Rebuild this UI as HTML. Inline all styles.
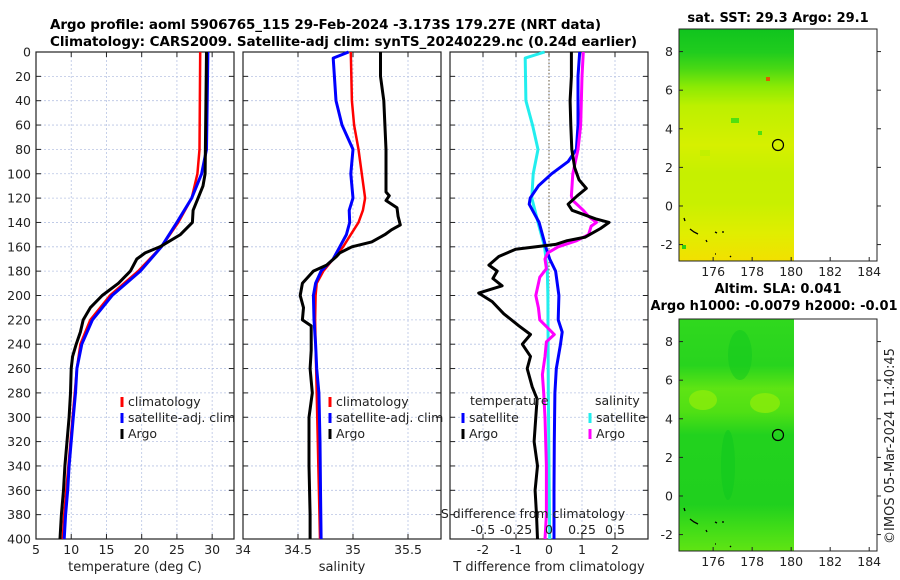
<!DOCTYPE html>
<html><head><meta charset="utf-8">
<style>
html,body{margin:0;padding:0;background:#fff;}
svg{display:block;font-family:"DejaVu Sans","Liberation Sans",sans-serif;}
</style></head>
<body>
<svg id="fig" width="900" height="580" viewBox="0 0 900 580" xmlns="http://www.w3.org/2000/svg">
<defs>
<linearGradient id="sstGrad" x1="0" y1="0" x2="0" y2="1">
<stop offset="0" stop-color="#10c41e"/>
<stop offset="0.1" stop-color="#20cc1e"/>
<stop offset="0.17" stop-color="#48d814"/>
<stop offset="0.25" stop-color="#8cea04"/>
<stop offset="0.33" stop-color="#bcf000"/>
<stop offset="0.5" stop-color="#d6f000"/>
<stop offset="0.62" stop-color="#c6f000"/>
<stop offset="0.75" stop-color="#c8f000"/>
<stop offset="0.88" stop-color="#e0ee00"/>
<stop offset="1" stop-color="#f2e000"/>
</linearGradient>
<linearGradient id="slaGrad" x1="0" y1="0" x2="0" y2="1">
<stop offset="0" stop-color="#30d81e"/>
<stop offset="0.2" stop-color="#28d41e"/>
<stop offset="0.3" stop-color="#5ee414"/>
<stop offset="0.4" stop-color="#50e014"/>
<stop offset="0.5" stop-color="#22d21e"/>
<stop offset="0.8" stop-color="#20d01e"/>
<stop offset="0.9" stop-color="#40dc18"/>
<stop offset="1" stop-color="#60e414"/>
</linearGradient>
</defs>
<text x="50" y="29" font-size="13.5" font-weight="bold" textLength="551">Argo profile: aoml 5906765_115 29-Feb-2024 -3.173S 179.27E (NRT data)</text>
<text x="50" y="46" font-size="13.5" font-weight="bold" textLength="587">Climatology: CARS2009. Satellite-adj clim: synTS_20240229.nc (0.24d earlier)</text>
<g id="panels"></g>

<!-- SST map -->
<g>
<text x="778" y="22" font-size="13" font-weight="bold" text-anchor="middle">sat. SST: 29.3 Argo: 29.1</text>
<rect x="679" y="29" width="115" height="232" fill="url(#sstGrad)"/>
<rect x="700" y="150" width="10" height="6" fill="#b8f000" opacity="0.6"/>
<rect x="731" y="118" width="8" height="5" fill="#50e010"/>
<rect x="758" y="131" width="4" height="4" fill="#50e010"/>
<rect x="766" y="77" width="4" height="4" fill="#e05a00"/>
<rect x="682" y="245" width="4" height="4" fill="#30d010"/>
<rect x="679" y="29" width="198" height="232" fill="none" stroke="#222" stroke-width="1"/>
<circle cx="778" cy="145" r="5.5" fill="none" stroke="#000" stroke-width="1.2"/>
<g stroke="#000" stroke-width="1.3" fill="none">
<path d="M684 218 l1 3 M690 229 l4 3 l4 2 M715 232 l2 1 M723 231 v2 M706 240 l1 2 M715 254 h1 M730 256 l1 1"/>
</g>
<g id="map1axes"></g>
</g>

<!-- SLA map -->
<g>
<text x="778" y="293" font-size="13" font-weight="bold" text-anchor="middle">Altim. SLA: 0.041</text>
<text x="774" y="310" font-size="13" font-weight="bold" text-anchor="middle">Argo h1000: -0.0079 h2000: -0.01</text>
<rect x="679" y="319" width="115" height="232" fill="url(#slaGrad)"/>
<ellipse cx="703" cy="400" rx="14" ry="10" fill="#8cec0a" opacity="0.8"/>
<ellipse cx="765" cy="403" rx="15" ry="10" fill="#8cec0a" opacity="0.8"/>
<ellipse cx="728" cy="465" rx="7" ry="35" fill="#10c81e" opacity="0.6"/>
<ellipse cx="740" cy="355" rx="12" ry="25" fill="#10c81e" opacity="0.5"/>
<rect x="679" y="319" width="198" height="232" fill="none" stroke="#222" stroke-width="1"/>
<circle cx="778" cy="435" r="5.5" fill="none" stroke="#000" stroke-width="1.2"/>
<g stroke="#000" stroke-width="1.3" fill="none">
<path d="M684 508 l1 3 M690 519 l4 3 l4 2 M715 522 l2 1 M723 521 v2 M706 530 l1 2 M715 544 h1 M730 546 l1 1"/>
</g>
<g id="map2axes"></g>
</g>
<text transform="translate(894,446) rotate(-90)" font-size="13" text-anchor="middle" fill="#222">©IMOS 05-Mar-2024 11:40:45</text>
</svg>

<script>
// ---------- data ----------
const tempDepths = [0,80,100,120,140,160,180,200,220,240,260,280,300,320,340,360,380,400];
const tempClim   = [28.3,28.2,27.9,27.1,25.2,22.8,19.5,15.5,12.7,11.3,10.8,10.5,10.2,9.9,9.6,9.3,9.0,8.8];
const tempSat    = [29.4,29.2,28.5,27.1,25.0,22.8,19.8,15.8,13.0,11.5,10.8,10.6,10.3,10.0,9.7,9.5,9.2,9.0];
const argoTDepths= [0,100,110,120,130,140,150,160,165,170,180,190,200,210,220,230,240,250,260,280,300,320,340,360,380,400];
const argoTemp   = [29.2,29.0,28.7,28.0,27.3,27.2,25.5,22.6,20.5,19.3,18.4,16.7,14.4,12.7,11.7,11.3,10.7,10.2,10.0,9.9,9.7,9.4,9.1,8.9,8.6,8.4];

const salClimDepths=[0,40,60,80,100,120,130,140,150,160,170,180,190,200,220,240,280,320,360,400];
const salClim    = [34.98,34.99,35.01,35.05,35.08,35.11,35.09,35.05,34.98,34.91,34.82,34.73,34.67,34.66,34.655,34.66,34.67,34.68,34.69,34.70];
const salSatDepths=[0,5,40,60,80,100,120,130,140,150,160,170,180,190,200,220,240,260,280,320,360,400];
const salSat     = [34.96,34.82,34.845,34.90,35.0,34.98,35.0,34.965,34.97,34.94,34.88,34.82,34.71,34.66,34.64,34.645,34.66,34.67,34.69,34.70,34.705,34.71];
const argoSDepths= [0,20,40,60,80,115,118,122,128,135,142,146,150,156,160,165,168,175,180,190,200,210,220,225,235,245,260,280,300,340,380,400];
const argoSal    = [35.25,35.25,35.28,35.29,35.30,35.30,35.33,35.30,35.40,35.41,35.43,35.35,35.29,35.17,34.99,34.88,34.85,34.76,34.64,34.54,34.52,34.55,34.54,34.62,34.62,34.62,34.61,34.63,34.60,34.60,34.61,34.61];

const dTSatDepths=[0,20,60,80,90,100,110,120,125,130,140,160,170,180,200,220,230,240,260,280,320,360,400];
const dTSat      = [0.93,0.88,0.88,0.83,0.58,0.08,-0.32,-0.57,-0.6,-0.5,-0.3,-0.1,0.02,0.2,0.3,0.28,0.4,0.35,0.22,0.18,0.16,0.15,0.15];
const dTArgoDepths=[0,20,40,60,80,95,105,112,118,125,130,137,140,145,152,155,158,162,168,175,180,186,192,198,205,215,225,232,240,250,260,275,285,300,320,340,360,380,400];
const dTArgo     = [0.68,0.68,0.64,0.66,0.69,0.78,0.91,1.13,0.86,0.58,0.7,1.41,1.82,1.56,1.1,0.55,0.2,-1.01,-1.52,-1.82,-1.57,-1.7,-1.42,-2.13,-1.72,-1.37,-0.91,-0.56,-0.81,-0.56,-0.66,-0.51,-0.36,-0.4,-0.45,-0.35,-0.42,-0.38,-0.35];
const dSSatDepths=[0,5,40,60,80,100,120,140,160,180,200,280,340,400];
const dSSat      = [-0.033,-0.18,-0.175,-0.125,-0.083,-0.12,-0.13,-0.083,-0.033,-0.013,-0.008,-0.005,0.0,0.005];
const dSArgoDepths=[0,20,60,80,100,118,122,130,135,140,143,150,155,160,165,170,178,185,200,210,220,232,238,250,265,280,300,340,380,400];
const dSArgo     = [0.26,0.25,0.24,0.22,0.18,0.17,0.18,0.26,0.30,0.36,0.32,0.30,0.21,0.07,-0.01,-0.03,-0.02,-0.07,-0.10,-0.08,-0.07,0.04,-0.02,-0.03,-0.05,-0.04,-0.03,-0.02,-0.02,-0.03];

const depthTicks=[0,20,40,60,80,100,120,140,160,180,200,220,240,260,280,300,320,340,360,380,400];
const tempTicks=[5,10,15,20,25,30];
const salTicks=[34,34.5,35,35.5];
const dTTicks=[-2,-1,0,1,2];
const dSTicks=[-0.5,-0.25,0,0.25,0.5];
const latTicks=[-2,0,2,4,6,8];
const lonTicks=[176,178,180,182,184];

// ---------- helpers ----------
const NS="http://www.w3.org/2000/svg";
const root=document.getElementById('panels');
function mk(tag,attrs,parent){const e=document.createElementNS(NS,tag);for(const k in attrs)e.setAttribute(k,attrs[k]);(parent||root).appendChild(e);return e;}
const Y0=52,Y1=539;
const yD=d=>Y0+(Y1-Y0)*d/400;

function panel(name,x0,x1,xmin,xmax,ticks,labelFmt,xlabel,showY){
  const g=mk('g',{});
  
  
  const xs=v=>x0+(x1-x0)*(v-xmin)/(xmax-xmin);
  depthTicks.forEach(d=>{
    const l=mk('line',{x1:x0,x2:x1,y1:yD(d),y2:yD(d),stroke:'#b8c4e4','stroke-width':0.8,'stroke-dasharray':'2,2'},g);
    
    
    const t1=mk('line',{x1:x0,x2:x0+5,y1:yD(d),y2:yD(d),stroke:'#222','stroke-width':1},g);
    
    
    const t2=mk('line',{x1:x1-5,x2:x1,y1:yD(d),y2:yD(d),stroke:'#222','stroke-width':1},g);
    
    
    if(showY){
      const t=mk('text',{x:31,y:yD(d)+4.5,'font-size':12.5,'text-anchor':'end',fill:'#222'},g);
      t.textContent=d;
      
      
    }
  });
  ticks.forEach(v=>{
    const l=mk('line',{x1:xs(v),x2:xs(v),y1:Y0,y2:Y1,stroke:'#b8c4e4','stroke-width':0.8,'stroke-dasharray':'2,2'},g);
    
    
    const tk=mk('line',{x1:xs(v),x2:xs(v),y1:Y0,y2:Y0+5,stroke:'#222'},g);
    
    
    const tk2=mk('line',{x1:xs(v),x2:xs(v),y1:Y1-5,y2:Y1,stroke:'#222'},g);
    
    
    const t=mk('text',{x:xs(v),y:554,'font-size':12.5,'text-anchor':'middle',fill:'#222'},g);
    t.textContent=labelFmt(v);
    
    
  });
  const fr=mk('rect',{x:x0,y:Y0,width:x1-x0,height:Y1-Y0,fill:'none',stroke:'#222','stroke-width':1.2},g);
  
  
  const xl=mk('text',{x:(x0+x1)/2,y:571,'font-size':13,'text-anchor':'middle',fill:'#222'},g);
  xl.textContent=xlabel;
  
  
  return {g,xs};
}
function series(p,depths,vals,color,w,name,scale){
  const sc=scale||(v=>v);
  const pts=depths.map((d,i)=>p.xs(sc(vals[i])).toFixed(1)+','+yD(d).toFixed(1)).join(' ');
  const pl=mk('polyline',{points:pts,fill:'none',stroke:color,'stroke-width':w,'stroke-linejoin':'round'},p.g);
  
  
}
function legendEntry(g,x,y,color,label){
  const m=mk('line',{x1:x,x2:x,y1:y-9,y2:y+1,stroke:color,'stroke-width':3},g);
  
  
  const t=mk('text',{x:x+6,y:y,'font-size':12.5,fill:'#222'},g);
  t.textContent=label;
  
  
}

const p1=panel('temperature-panel',36,234,5,33.1,tempTicks,v=>v,'temperature (deg C)',true);
series(p1,tempDepths,tempClim,'#ff0000',2.5,'climatology-temperature-line');
series(p1,tempDepths,tempSat,'#0000ff',3,'satellite-temperature-line');
series(p1,argoTDepths,argoTemp,'#000000',3,'argo-temperature-line');
legendEntry(p1.g,122,406,'#ff0000','climatology');
legendEntry(p1.g,122,422,'#0000ff','satellite-adj. clim');
legendEntry(p1.g,122,438,'#000000','Argo');

const p2=panel('salinity-panel',243,441,34,35.8,salTicks,v=>v,'salinity',false);
series(p2,salClimDepths,salClim,'#ff0000',2.5,'climatology-salinity-line');
series(p2,salSatDepths,salSat,'#0000ff',3,'satellite-salinity-line');
series(p2,argoSDepths,argoSal,'#000000',3,'argo-salinity-line');
legendEntry(p2.g,330,406,'#ff0000','climatology');
legendEntry(p2.g,330,422,'#0000ff','satellite-adj. clim');
legendEntry(p2.g,330,438,'#000000','Argo');

const p3=panel('difference-panel',450,648,-3,3,dTTicks,v=>v,'T difference from climatology',false);
const zl=mk('line',{x1:p3.xs(0),x2:p3.xs(0),y1:Y0,y2:Y1,stroke:'#6a5a3a','stroke-width':1,'stroke-dasharray':'1.5,2'},p3.g);


const sS=v=>v*4;
series(p3,dSSatDepths,dSSat,'#22eeee',3,'satellite-salinity-diff-line',sS);
series(p3,dTSatDepths,dTSat,'#0000ff',3,'satellite-temperature-diff-line');
series(p3,dSArgoDepths,dSArgo,'#ff00ff',3,'argo-salinity-diff-line',sS);
series(p3,dTArgoDepths,dTArgo,'#000000',3,'argo-temperature-diff-line');
const lt=mk('text',{x:470,y:405,'font-size':12.5,fill:'#222'},p3.g);
lt.textContent='temperature';


const ls=mk('text',{x:595,y:405,'font-size':12.5,fill:'#222'},p3.g);
ls.textContent='salinity';


legendEntry(p3.g,463,422,'#0000ff','satellite');
legendEntry(p3.g,463,438,'#000000','Argo');
legendEntry(p3.g,590,422,'#22eeee','satellite');
legendEntry(p3.g,590,438,'#ff00ff','Argo');
const sl=mk('text',{x:533,y:518,'font-size':12.5,'text-anchor':'middle',fill:'#222'},p3.g);
sl.textContent='S difference from climatology';


dSTicks.forEach(v=>{
  const t=mk('text',{x:p3.xs(sS(v)),y:534,'font-size':12.5,'text-anchor':'middle',fill:'#222'},p3.g);
  t.textContent=v;
  
  
});

function mapAxes(id,top){
  const g=document.getElementById(id);
  const x0=679,x1=877,lonMin=174.25,lonMax=184.4;
  const latTop=9.17,pxPerDeg=19.3;
  const xs=v=>x0+(x1-x0)*(v-lonMin)/(lonMax-lonMin);
  const ys=v=>top+(latTop-v)*pxPerDeg;
  latTicks.forEach(v=>{
    const t=mk('text',{x:673,y:ys(v)+4.5,'font-size':12.5,'text-anchor':'end',fill:'#222'},g);
    t.textContent=v;
    
    
    const a=mk('line',{x1:x0,x2:x0+4,y1:ys(v),y2:ys(v),stroke:'#222'},g);
    
    
    const b=mk('line',{x1:x1,x2:x1+4,y1:ys(v),y2:ys(v),stroke:'#222'},g);
    
    
  });
  lonTicks.forEach(v=>{
    const t=mk('text',{x:xs(v),y:top+232+15,'font-size':12.5,'text-anchor':'middle',fill:'#222'},g);
    t.textContent=v;
    
    
    const a=mk('line',{x1:xs(v),x2:xs(v),y1:top+228,y2:top+232,stroke:'#222'},g);
    
    
  });
}
mapAxes('map1axes',29);
mapAxes('map2axes',319);
</script>
</body></html>
